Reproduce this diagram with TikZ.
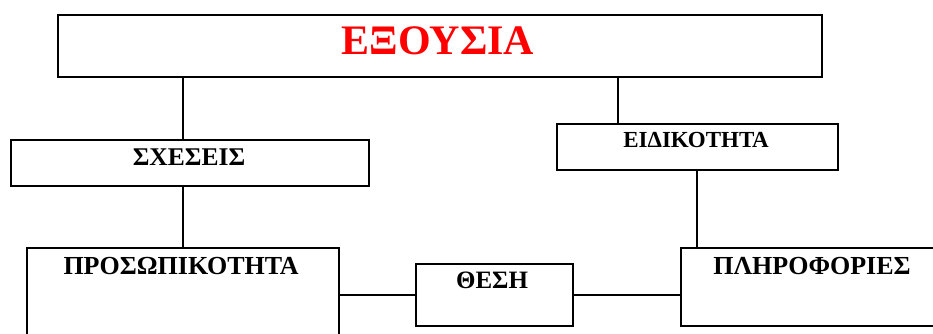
\documentclass[tikz,border=0pt]{standalone}
\usepackage{fontspec}
\setmainfont{Liberation Serif}
\begin{document}
\begin{tikzpicture}[x=1pt,y=-1pt,
  box/.style={draw=black, line width=1.8pt, fill=white, rectangle, inner sep=0pt, anchor=north west},
  lbl/.style={inner sep=0pt, anchor=base, font=\bfseries},
  link/.style={draw=black, line width=2pt}]
\clip (0,0) rectangle (933,334);
\fill[white] (0,0) rectangle (933,334);

% boxes
\node[box, line width=2.2pt, minimum width=764pt, minimum height=62pt] (top) at (57,14) {};
\node[box, minimum width=358pt, minimum height=46pt] (sx) at (10,139) {};
\node[box, minimum width=281pt, minimum height=46pt] (eid) at (556,123) {};
\node[box, minimum width=312pt, minimum height=110pt] (pros) at (26,247) {};
\node[box, minimum width=157pt, minimum height=62pt] (thesi) at (415,263) {};
\node[box, minimum width=265pt, minimum height=78pt] (plir) at (680,247) {};

% texts
\node[lbl, text=red, font=\bfseries\fontsize{42}{46}\selectfont] (tEx) at (438,55) {ΕΞΟΥΣΙΑ};
\node[lbl, font=\bfseries\fontsize{25.5}{29}\selectfont] (tSx) at (189,165) {ΣΧΕΣΕΙΣ};
\node[lbl, font=\bfseries\fontsize{23}{27}\selectfont] (tEid) at (696,147) {ΕΙΔΙΚΟΤΗΤΑ};
\node[lbl, font=\bfseries\fontsize{26}{30}\selectfont] (tPros) at (181,274) {ΠΡΟΣΩΠΙΚΟΤΗΤΑ};
\node[lbl, font=\bfseries\fontsize{25}{29}\selectfont] (tTh) at (492,288) {ΘΕΣΗ};
\node[lbl, font=\bfseries\fontsize{26}{30}\selectfont] (tPl) at (812,274) {ΠΛΗΡΟΦΟΡΙΕΣ};

% connectors
\coordinate (tapR) at (618,0);
\draw[link] (top.south -| pros.north) -- (sx.north -| pros.north);
\draw[link] (sx.south -| pros.north) -- (pros.north);
\draw[link] (top.south -| tapR) -- (eid.north -| tapR);
\draw[link] (eid.south) -- (eid.south |- plir.north);
\draw[link] (thesi.west -| pros.east) -- (thesi.west);
\draw[link] (thesi.east) -- (thesi.east -| plir.west);
\end{tikzpicture}
\end{document}
